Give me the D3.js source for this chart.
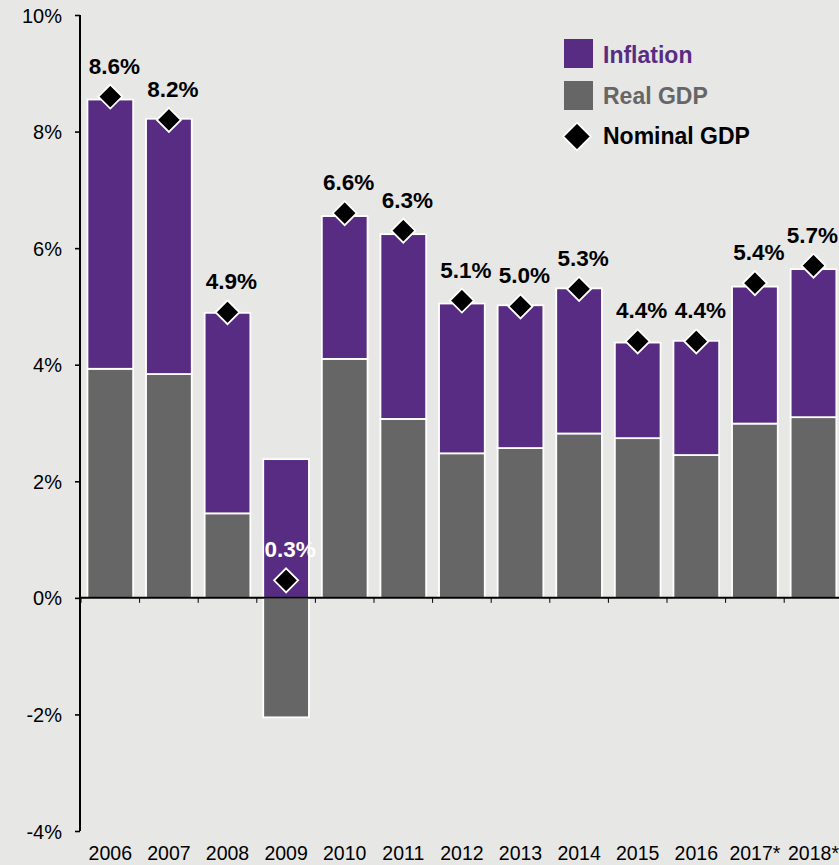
<!DOCTYPE html>
<html>
<head>
<meta charset="utf-8">
<script src="https://cdn.jsdelivr.net/npm/d3@7"></script>
<style>
  html, body { margin: 0; padding: 0; background: #e7e7e5; }
  svg { display: block; font-family: "Liberation Sans", Arial, sans-serif; }
</style>
</head>
<body>
<svg id="chart" width="839" height="865"></svg>
<script>
// Global GDP growth, % change year over year
const years = ["2006", "2007", "2008", "2009", "2010", "2011", "2012", "2013", "2014", "2015", "2016", "2017*", "2018*"];
const realGdp   = [3.93, 3.84, 1.45, -2.05, 4.10, 3.07, 2.48, 2.57, 2.82, 2.74, 2.45, 2.99, 3.10];
const inflation = [4.62, 4.38, 3.44, 2.38, 2.45, 3.17, 2.57, 2.45, 2.49, 1.64, 1.96, 2.35, 2.54];
const nominalGdp = [8.6, 8.2, 4.9, 0.3, 6.6, 6.3, 5.1, 5.0, 5.3, 4.4, 4.4, 5.4, 5.7];
const yTicks = [-4, -2, 0, 2, 4, 6, 8, 10];

const PURPLE = "#582c83";
const GRAY = "#666666";
const W = 839;

const svg = d3.select("#chart");

const x = d3.scaleBand()
  .domain(years)
  .range([81, 842.8])
  .paddingInner(0.22)
  .paddingOuter(0.11);

const y = d3.scaleLinear()
  .domain([-4, 10])
  .range([831, 15]);

// Stacked bars: real GDP from zero, inflation on top (from zero when real GDP is negative)
const rows = years.map((yr, i) => {
  const r = realGdp[i], inf = inflation[i];
  const base = Math.max(r, 0);
  return { yr, r, inf, base, nom: nominalGdp[i] };
});

const bars = svg.append("g");
bars.selectAll("rect.real")
  .data(rows)
  .join("rect")
  .attr("class", "real")
  .attr("x", d => x(d.yr))
  .attr("width", x.bandwidth())
  .attr("y", d => y(Math.max(d.r, 0)))
  .attr("height", d => Math.abs(y(d.r) - y(0)))
  .attr("fill", GRAY)
  .attr("stroke", "#fff")
  .attr("stroke-width", 1.8);

bars.selectAll("rect.infl")
  .data(rows)
  .join("rect")
  .attr("class", "infl")
  .attr("x", d => x(d.yr))
  .attr("width", x.bandwidth())
  .attr("y", d => y(d.base + d.inf))
  .attr("height", d => y(d.base) - y(d.base + d.inf))
  .attr("fill", PURPLE)
  .attr("stroke", "#fff")
  .attr("stroke-width", 1.8);

// Y axis
const yAxis = svg.append("g")
  .attr("transform", "translate(80,0)")
  .call(d3.axisLeft(y).tickValues(yTicks).tickFormat(d => d + "%").tickSize(5).tickPadding(13));
yAxis.select(".domain").attr("stroke", "#000").attr("stroke-width", 2).attr("d", `M0,${y(-4)}V${y(10)}`);
yAxis.selectAll(".tick line").attr("stroke", "#000").attr("stroke-width", 1.6);
yAxis.selectAll(".tick text").attr("fill", "#000").style("font-size", "20px").attr("dy", "0.35em");

// Zero line with category boundary ticks
const y0 = y(0);
const step = x.step();
const start = x.range()[0];
svg.append("line")
  .attr("x1", 80).attr("x2", W)
  .attr("y1", y0).attr("y2", y0)
  .attr("stroke", "#000").attr("stroke-width", 2);
svg.append("g").selectAll("line")
  .data(d3.range(years.length + 1))
  .join("line")
  .attr("x1", i => start + i * step)
  .attr("x2", i => start + i * step)
  .attr("y1", y0).attr("y2", y0 + 5)
  .attr("stroke", "#000").attr("stroke-width", 1);

// Category labels along the bottom
const xAxis = svg.append("g")
  .attr("transform", "translate(0,838)")
  .call(d3.axisBottom(x).tickSize(0).tickPadding(8.5));
xAxis.select(".domain").remove();
xAxis.selectAll(".tick text").attr("fill", "#000").style("font-size", "19.5px");

// Nominal GDP diamonds
const dHalf = 12;
svg.append("g").selectAll("path")
  .data(rows)
  .join("path")
  .attr("transform", d => `translate(${x(d.yr) + x.bandwidth() / 2},${y(d.nom)})`)
  .attr("d", `M0,${-dHalf}L${dHalf},0L0,${dHalf}L${-dHalf},0Z`)
  .attr("fill", "#000")
  .attr("stroke", "#fff")
  .attr("stroke-width", 1.8);

// Value labels (kept inside the right edge)
svg.append("g").selectAll("text")
  .data(rows)
  .join("text")
  .attr("y", d => y(d.nom) - 23)
  .attr("text-anchor", "middle")
  .attr("fill", d => d.r < 0 ? "#fff" : "#000")
  .style("font-size", "22.5px")
  .style("font-weight", "bold")
  .text(d => d3.format(".1f")(d.nom) + "%")
  .each(function (d) {
    const half = this.getComputedTextLength() / 2;
    const cx = Math.min(x(d.yr) + x.bandwidth() / 2 + 4, W - 1 - half);
    d3.select(this).attr("x", cx);
  });

// Legend
const legend = svg.append("g");
legend.append("rect").attr("x", 564).attr("y", 39).attr("width", 29).attr("height", 29).attr("fill", PURPLE);
legend.append("rect").attr("x", 564).attr("y", 81).attr("width", 29).attr("height", 29).attr("fill", GRAY);
legend.append("path")
  .attr("transform", "translate(577,136.5)")
  .attr("d", "M0,-14L14,0L0,14L-14,0Z")
  .attr("fill", "#000").attr("stroke", "#fff").attr("stroke-width", 1.8);
const legendItems = [
  { text: "Inflation", color: PURPLE, yb: 62.5 },
  { text: "Real GDP", color: GRAY, yb: 103.5 },
  { text: "Nominal GDP", color: "#000", yb: 144 }
];
legend.selectAll("text")
  .data(legendItems)
  .join("text")
  .attr("x", 603)
  .attr("y", d => d.yb)
  .attr("fill", d => d.color)
  .style("font-size", "23px")
  .style("font-weight", "bold")
  .text(d => d.text);
</script>
</body>
</html>
